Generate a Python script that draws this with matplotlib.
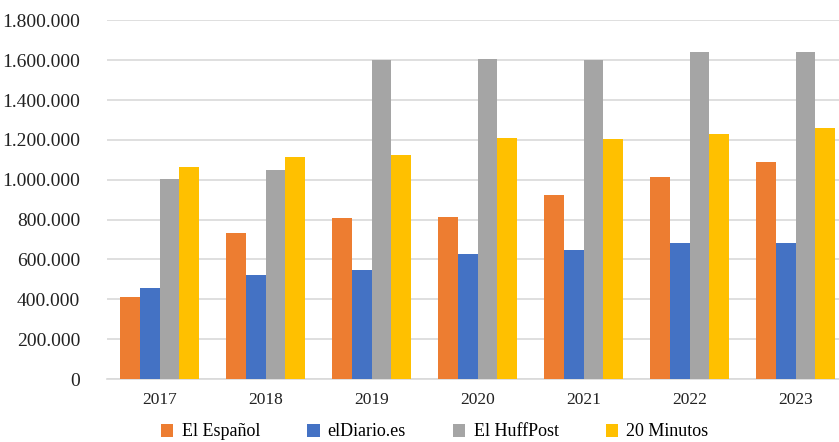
import numpy as np
import matplotlib.pyplot as plt
from matplotlib.ticker import FuncFormatter

plt.rcParams['font.family'] = ['Liberation Serif', 'DejaVu Serif']

# Data
years = ['2017', '2018', '2019', '2020', '2021', '2022', '2023']
el_espanol = [410000, 735000, 808000, 815000, 922000, 1012000, 1088000]
eldiario = [455000, 520000, 545000, 625000, 645000, 680000, 680000]
huffpost = [1003000, 1047000, 1600000, 1606000, 1601000, 1641000, 1641000]
minutos20 = [1062000, 1116000, 1126000, 1210000, 1205000, 1230000, 1260000]

series = [
    ('El Español', el_espanol, '#ED7D31'),
    ('elDiario.es', eldiario, '#4472C4'),
    ('El HuffPost', huffpost, '#A5A5A5'),
    ('20 Minutos', minutos20, '#FFC000'),
]

fig = plt.figure(figsize=(8.39, 4.42), dpi=100)
ax = fig.add_axes([106.5 / 839, 1 - 379 / 442, 742 / 839, (379 - 20.3) / 442])

x = np.arange(len(years))
w = 0.187
for i, (name, vals, col) in enumerate(series):
    ax.bar(x + (i - 1.5) * w, vals, w, color=col, label=name, zorder=3)

ax.set_xlim(-0.5, len(years) - 0.5)
ax.set_ylim(0, 1800000)
ax.set_yticks(np.arange(0, 1800001, 200000))
ax.yaxis.set_major_formatter(FuncFormatter(lambda v, p: f'{int(v):,}'.replace(',', '.')))
ax.set_xticks(x)
ax.set_xticklabels(years)

ax.grid(axis='y', color='#d9d9d9', linewidth=1.2, zorder=0)
for s in ['top', 'right', 'left']:
    ax.spines[s].set_visible(False)
ax.spines['bottom'].set_color('#d9d9d9')
ax.spines['bottom'].set_linewidth(1.2)
ax.tick_params(axis='y', length=0, labelsize=14, colors='#222222', pad=19)
ax.tick_params(axis='x', length=0, labelsize=12.5, colors='#222222', pad=9)

fig.legend(loc='center', bbox_to_anchor=(0.518, 1 - 432 / 442), ncol=4, frameon=False,
           fontsize=13, handlelength=0.7, handleheight=0.7, columnspacing=2.6,
           handletextpad=0.45)

fig.savefig('out.png', dpi=100)
